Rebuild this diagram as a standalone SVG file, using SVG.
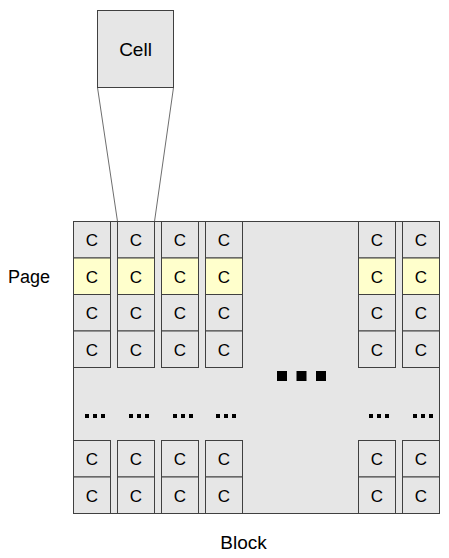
<svg xmlns="http://www.w3.org/2000/svg" width="449" height="558" viewBox="0 0 449 558">
<style>
.box{fill:#e6e6e6;stroke:#404040;stroke-width:1}
.hl{fill:#ffffcc;stroke:#404040;stroke-width:1}
.c{font-family:"Liberation Sans",Arial,sans-serif;font-size:17px;fill:#000;text-anchor:middle}
.lbl{font-family:"Liberation Sans",Arial,sans-serif;font-size:19px;fill:#000}
.conn{stroke:#6e6e6e;stroke-width:1;fill:none}
.dot{fill:#000}
</style>
<rect width="449" height="558" fill="#fff"/>
<g id="block">
<rect class="box" x="73.5" y="221.5" width="366" height="292"/>
</g>
<g id="connectors">
<line class="conn" x1="97.5" y1="87.5" x2="117.5" y2="221.5"/>
<line class="conn" x1="173.5" y1="87.5" x2="154.5" y2="221.5"/>
</g>
<g id="cell-zoom">
<rect class="box" x="97.5" y="10.5" width="76" height="77"/>
<text class="lbl" x="135.5" y="56" text-anchor="middle">Cell</text>
</g>
<g id="col1">
<rect class="box" x="73.5" y="221.5" width="37" height="36.5"/><text class="c" x="92" y="246">C</text>
<rect class="hl" x="73.5" y="258" width="37" height="36.5"/><text class="c" x="92" y="282.5">C</text>
<rect class="box" x="73.5" y="294.5" width="37" height="36.5"/><text class="c" x="92" y="319">C</text>
<rect class="box" x="73.5" y="331" width="37" height="36.5"/><text class="c" x="92" y="355.5">C</text>
<rect class="box" x="73.5" y="440.5" width="37" height="36.5"/><text class="c" x="92" y="465">C</text>
<rect class="box" x="73.5" y="477" width="37" height="36.5"/><text class="c" x="92" y="501.5">C</text>
</g>
<g id="col2">
<rect class="box" x="117.5" y="221.5" width="37" height="36.5"/><text class="c" x="136" y="246">C</text>
<rect class="hl" x="117.5" y="258" width="37" height="36.5"/><text class="c" x="136" y="282.5">C</text>
<rect class="box" x="117.5" y="294.5" width="37" height="36.5"/><text class="c" x="136" y="319">C</text>
<rect class="box" x="117.5" y="331" width="37" height="36.5"/><text class="c" x="136" y="355.5">C</text>
<rect class="box" x="117.5" y="440.5" width="37" height="36.5"/><text class="c" x="136" y="465">C</text>
<rect class="box" x="117.5" y="477" width="37" height="36.5"/><text class="c" x="136" y="501.5">C</text>
</g>
<g id="col3">
<rect class="box" x="161.5" y="221.5" width="37" height="36.5"/><text class="c" x="180" y="246">C</text>
<rect class="hl" x="161.5" y="258" width="37" height="36.5"/><text class="c" x="180" y="282.5">C</text>
<rect class="box" x="161.5" y="294.5" width="37" height="36.5"/><text class="c" x="180" y="319">C</text>
<rect class="box" x="161.5" y="331" width="37" height="36.5"/><text class="c" x="180" y="355.5">C</text>
<rect class="box" x="161.5" y="440.5" width="37" height="36.5"/><text class="c" x="180" y="465">C</text>
<rect class="box" x="161.5" y="477" width="37" height="36.5"/><text class="c" x="180" y="501.5">C</text>
</g>
<g id="col4">
<rect class="box" x="205.5" y="221.5" width="37" height="36.5"/><text class="c" x="224" y="246">C</text>
<rect class="hl" x="205.5" y="258" width="37" height="36.5"/><text class="c" x="224" y="282.5">C</text>
<rect class="box" x="205.5" y="294.5" width="37" height="36.5"/><text class="c" x="224" y="319">C</text>
<rect class="box" x="205.5" y="331" width="37" height="36.5"/><text class="c" x="224" y="355.5">C</text>
<rect class="box" x="205.5" y="440.5" width="37" height="36.5"/><text class="c" x="224" y="465">C</text>
<rect class="box" x="205.5" y="477" width="37" height="36.5"/><text class="c" x="224" y="501.5">C</text>
</g>
<g id="col5">
<rect class="box" x="358.5" y="221.5" width="37" height="36.5"/><text class="c" x="377" y="246">C</text>
<rect class="hl" x="358.5" y="258" width="37" height="36.5"/><text class="c" x="377" y="282.5">C</text>
<rect class="box" x="358.5" y="294.5" width="37" height="36.5"/><text class="c" x="377" y="319">C</text>
<rect class="box" x="358.5" y="331" width="37" height="36.5"/><text class="c" x="377" y="355.5">C</text>
<rect class="box" x="358.5" y="440.5" width="37" height="36.5"/><text class="c" x="377" y="465">C</text>
<rect class="box" x="358.5" y="477" width="37" height="36.5"/><text class="c" x="377" y="501.5">C</text>
</g>
<g id="col6">
<rect class="box" x="402.5" y="221.5" width="37" height="36.5"/><text class="c" x="421" y="246">C</text>
<rect class="hl" x="402.5" y="258" width="37" height="36.5"/><text class="c" x="421" y="282.5">C</text>
<rect class="box" x="402.5" y="294.5" width="37" height="36.5"/><text class="c" x="421" y="319">C</text>
<rect class="box" x="402.5" y="331" width="37" height="36.5"/><text class="c" x="421" y="355.5">C</text>
<rect class="box" x="402.5" y="440.5" width="37" height="36.5"/><text class="c" x="421" y="465">C</text>
<rect class="box" x="402.5" y="477" width="37" height="36.5"/><text class="c" x="421" y="501.5">C</text>
</g>
<g id="ellipsis-columns">
<rect class="dot" x="277" y="371" width="10" height="10"/>
<rect class="dot" x="296.5" y="371" width="10" height="10"/>
<rect class="dot" x="316" y="371" width="10" height="10"/>
</g>
<g id="ellipsis-rows">
<rect class="dot" x="85" y="414" width="4" height="4"/><rect class="dot" x="93" y="414" width="4" height="4"/><rect class="dot" x="101" y="414" width="4" height="4"/>
<rect class="dot" x="129" y="414" width="4" height="4"/><rect class="dot" x="137" y="414" width="4" height="4"/><rect class="dot" x="145" y="414" width="4" height="4"/>
<rect class="dot" x="173" y="414" width="4" height="4"/><rect class="dot" x="181" y="414" width="4" height="4"/><rect class="dot" x="189" y="414" width="4" height="4"/>
<rect class="dot" x="216" y="414" width="4" height="4"/><rect class="dot" x="224" y="414" width="4" height="4"/><rect class="dot" x="232" y="414" width="4" height="4"/>
<rect class="dot" x="369" y="414" width="4" height="4"/><rect class="dot" x="377" y="414" width="4" height="4"/><rect class="dot" x="385" y="414" width="4" height="4"/>
<rect class="dot" x="413" y="414" width="4" height="4"/><rect class="dot" x="421" y="414" width="4" height="4"/><rect class="dot" x="429" y="414" width="4" height="4"/>
</g>
<g id="label-page">
<text class="lbl" x="8" y="283" style="font-size:18px">Page</text>
</g>
<g id="label-block">
<text class="lbl" x="243.5" y="548.5" text-anchor="middle">Block</text>
</g>
</svg>
